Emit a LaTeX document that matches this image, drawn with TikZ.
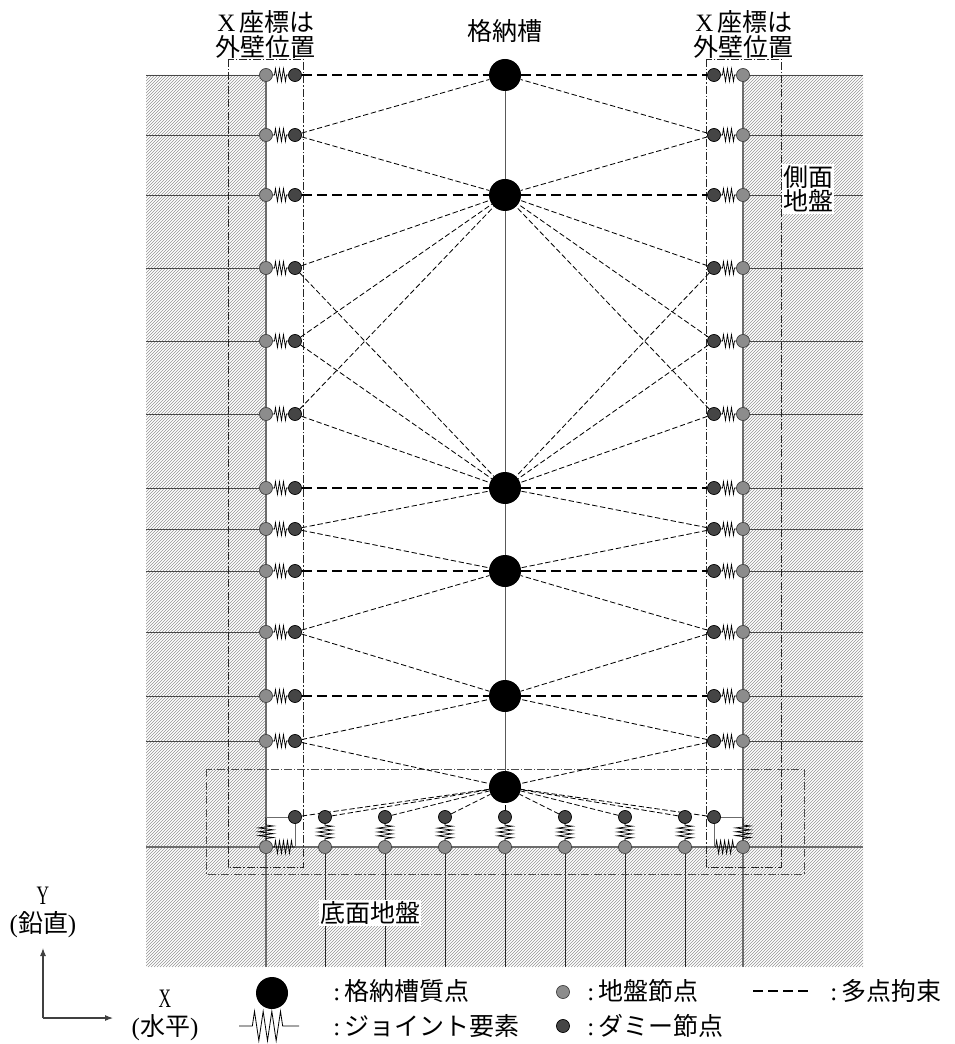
\documentclass[tikz,border=0pt]{standalone}
\usepackage{fontspec}
\setmainfont{Liberation Serif}
\newfontfamily\jp{Noto Sans CJK JP}
\usetikzlibrary{decorations.pathmorphing,backgrounds,arrows.meta}
\definecolor{groundfill}{gray}{0.55}
\definecolor{dummyfill}{gray}{0.27}
\definecolor{wallgray}{gray}{0.42}
\tikzset{
 x=0.75pt,y=-0.75pt,
 groundnode/.style={circle,draw=black!75,line width=.5pt,fill=groundfill,minimum size=9.8pt,inner sep=0pt},
 dummynode/.style={circle,draw=black,line width=.5pt,fill=dummyfill,minimum size=9.8pt,inner sep=0pt},
 massnode/.style={circle,fill=black,minimum size=24pt,inner sep=0pt},
 hatchline/.style={line width=.3pt,draw=black!42},
 soil/.style={line width=.6pt,draw=black!72},
 wallline/.style={line width=1pt,draw=wallgray},
 pile/.style={line width=.75pt,draw=black!85},
 thickdash/.style={line width=1.9pt,dash pattern=on 7.5pt off 3.8pt},
 thindash/.style={line width=.62pt,dash pattern=on 4pt off 2pt},
 boxline/.style={line width=.6pt,draw=black!85,dash pattern=on 6pt off 1.5pt on 1pt off 1.5pt},
 hspring/.style={line width=.55pt,decorate,decoration={zigzag,amplitude=4.7pt,segment length=3pt,pre length=1.2pt,post length=1.2pt}},
 vspring/.style={line width=.55pt,decorate,decoration={zigzag,amplitude=5.6pt,segment length=2.9pt,pre length=1pt,post length=1pt}},
 cspring/.style={line width=.55pt,decorate,decoration={zigzag,amplitude=5.6pt,segment length=2.9pt,pre length=6pt,post length=1pt}},
 legspring/.style={line width=.6pt,decorate,decoration={zigzag,amplitude=11pt,segment length=6.5pt,pre length=10pt,post length=10pt}},
 lab/.style={font=\jp\fontsize{18.75}{24}\selectfont,inner sep=0pt},
 leg/.style={font=\jp\fontsize{18.75}{24}\selectfont,inner sep=0pt,anchor=west},
 axlab/.style={font=\fontsize{20}{22}\selectfont,inner sep=0pt,align=center},
 arrowline/.style={line width=.8pt,draw=black!75,-{Latex[length=6pt,width=4.5pt]}},
}
\begin{document}
\begin{tikzpicture}
\useasboundingbox (0,0) rectangle (954,1044);
% masses
\foreach \n/\y in {a/75,b/195,c/488,d/571,e/696,f/787}
  \node[massnode] (m\n) at (505,\y) {};
% side rows
\foreach \n/\y in {1/75,2/135,3/195,4/268,5/341,6/414,7/488,8/529,9/571,10/632,11/696,12/741}{
  \node[groundnode] (gl\n) at (266,\y) {};
  \node[dummynode]  (dl\n) at (295,\y) {};
  \node[dummynode]  (dr\n) at (714,\y) {};
  \node[groundnode] (gr\n) at (743,\y) {};
  \coordinate (el\n) at (146,\y);
  \coordinate (er\n) at (863,\y);
}
% base nodes
\foreach \n/\x in {0/266,1/325,2/385,3/445,4/505,5/565,6/625,7/685,8/743}{
  \node[groundnode] (bg\n) at (\x,847) {};
  \coordinate (bb\n) at (\x,967);
}
\foreach \n/\x in {1/325,2/385,3/445,4/505,5/565,6/625,7/685}
  \node[dummynode] (bd\n) at (\x,817) {};
\node[dummynode] (bdl) at (295,817) {};
\node[dummynode] (bdr) at (714,817) {};
\coordinate (cl) at (266,817);
\coordinate (cr) at (743,817);
\coordinate (fl) at (295,847);
\coordinate (fr) at (714,847);
\coordinate (bel) at (146,847);
\coordinate (ber) at (863,847);
\coordinate (wlt) at (266,75);
\coordinate (wrt) at (743,75);
\begin{scope}[on background layer]
  % hatching
  \begin{scope}
    \clip (146,75) -- (266,75) -- (266,847) -- (743,847) -- (743,75) -- (863,75) -- (863,967) -- (146,967) -- cycle;
    \foreach \i in {0,...,565}
      \draw[hatchline] ({\i*3-830},967) -- ({\i*3+70},67);
  \end{scope}
  % ground lines
  \foreach \n in {1,...,12}{
    \draw[soil] (el\n) -- (gl\n);
    \draw[soil] (gr\n) -- (er\n);
  }
  \draw[wallline] (wlt) -- (bb0);
  \draw[wallline] (wrt) -- (bb8);
  \draw[wallline] (bel) -- (ber);
  \foreach \n in {1,...,7} \draw[pile] (bg\n) -- (bb\n);
  % centre line
  \draw[line width=.75pt,draw=black!65] (ma) -- (mf);
  % boxes
  \draw[boxline] (228,59) rectangle (303,867);
  \draw[boxline] (706,59) rectangle (781,867);
  \draw[boxline,draw=black!70] (206,769) rectangle (804,874);
  % springs
  \foreach \n in {1,...,12}{
    \draw[hspring] (gl\n) -- (dl\n);
    \draw[hspring] (dr\n) -- (gr\n);
  }
  \foreach \n in {1,...,7} \draw[vspring] (bd\n) -- (bg\n);
  \draw[cspring] (cl) -- (bg0);
  \draw[cspring] (cr) -- (bg8);
  \draw[hspring] (bg0) -- (fl);
  \draw[hspring] (fr) -- (bg8);
  % corner links
  \draw[wallline,line width=.7pt] (cl) -- (bdl) -- (fl);
  \draw[wallline,line width=.7pt] (cr) -- (bdr) -- (fr);
  % multi-point constraints
  \foreach \m/\n in {a/1,b/3,c/7,d/9,e/11}{
    \draw[thickdash] (dl\n) -- (m\m);
    \draw[thickdash] (m\m) -- (dr\n);
  }
  \foreach \m/\n in {a/2,b/2,b/4,b/5,b/6,c/4,c/5,c/6,c/8,d/8,d/10,e/10,e/12,f/12}{
    \draw[thindash] (dl\n) -- (m\m);
    \draw[thindash] (dr\n) -- (m\m);
  }
  \foreach \n in {l,r,1,2,3,4,5,6,7}
    \draw[thindash] (bd\n) -- (mf);
\end{scope}
% labels
\node[lab] (t1a) at (266,22) {{\rmfamily X}\,座標は};
\node[lab] (t1b) at (265,47) {外壁位置};
\node[lab] (t2a) at (744,22) {{\rmfamily X}\,座標は};
\node[lab] (t2b) at (743,47) {外壁位置};
\node[lab] (t3) at (505,31) {格納槽};
\node[lab,fill=white,inner sep=1pt] (t4) at (808,177) {側面};
\node[lab,fill=white,inner sep=1pt] (t5) at (808,201) {地盤};
\node[lab,fill=white,inner sep=1pt] (t6) at (370,913) {底面地盤};
% axes
\coordinate (ax0) at (43,1018);
\coordinate (axy) at (43,948);
\coordinate (axx) at (113,1018);
\draw[arrowline] (ax0) -- (axy);
\draw[arrowline] (ax0) -- (axx);
\node[axlab] (ly) at (43,896) {\scalebox{.65}[1]{Y}};
\node[lab] (lyy) at (43,925) {{\rmfamily(}鉛直{\rmfamily)}};
\node[axlab] (lx) at (165,999) {\scalebox{.65}[1]{X}};
\node[lab] (lxx) at (165,1028) {{\rmfamily(}水平{\rmfamily)}};
% legend
\node[massnode] (lm) at (272,993) {};
\coordinate (ls0) at (239,1026);
\coordinate (ls1) at (299,1026);
\draw[legspring] (ls0) -- (ls1);
\node[leg] (lt1) at (333,991) {{\rmfamily:}\,格納槽質点};
\node[leg] (lt2) at (333,1026) {{\rmfamily:}\,ジョイント要素};
\node[groundnode] (lg) at (563,992) {};
\node[dummynode] (ld) at (563,1026) {};
\node[leg] (lt3) at (587,991) {{\rmfamily:}\,地盤節点};
\node[leg] (lt4) at (587,1026) {{\rmfamily:}\,ダミー節点};
\coordinate (ld0) at (753,991);
\coordinate (ld1) at (813,991);
\draw[thickdash] (ld0) -- (ld1);
\node[leg] (lt5) at (830,991) {{\rmfamily:}\,多点拘束};
\end{tikzpicture}
\end{document}
